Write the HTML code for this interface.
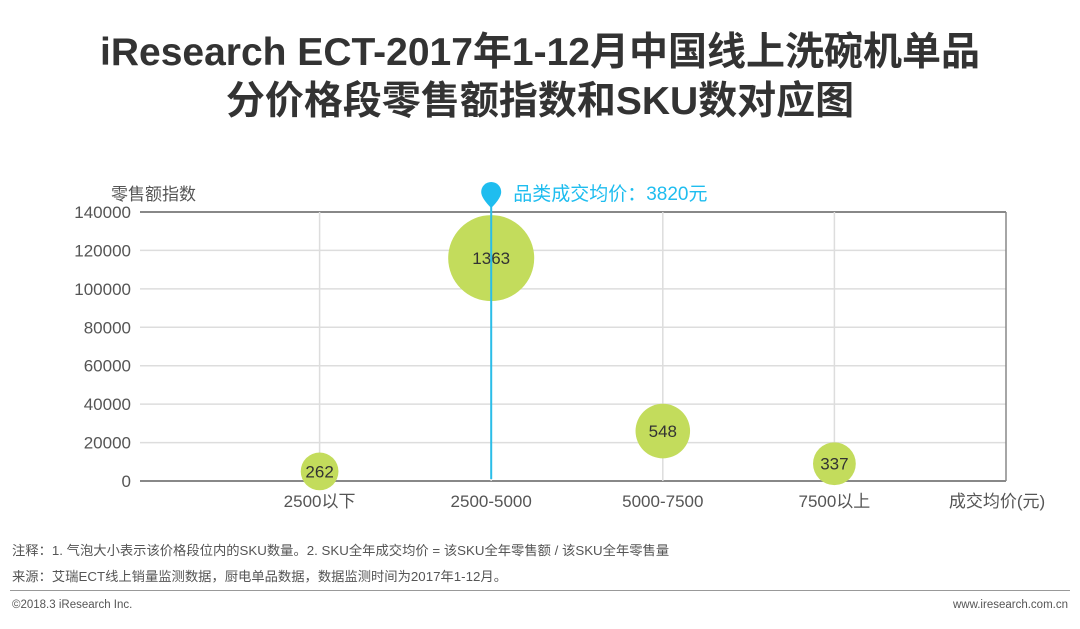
<!DOCTYPE html>
<html><head><meta charset="utf-8"><style>
body{margin:0;width:1080px;height:629px;background:#fff;font-family:"Liberation Sans","Noto Sans CJK SC",sans-serif;overflow:hidden;position:relative}
.t{position:absolute;left:0;width:1080px;text-align:center;font-weight:bold;font-size:39px;color:#333;font-family:"Liberation Sans","Noto Sans CJK SC",sans-serif;line-height:46px}
.s{position:absolute;font-size:13.3px;color:#555}
</style></head><body>
<div class="t" style="top:30px">iResearch ECT-2017年1-12月中国线上洗碗机单品</div>
<div class="t" style="top:79px">分价格段零售额指数和SKU数对应图</div>
<svg id="c" width="1080" height="629" style="position:absolute;left:0;top:0"></svg>
<div class="s" style="left:12px;top:540px">注释：1. 气泡大小表示该价格段位内的SKU数量。2. SKU全年成交均价 = 该SKU全年零售额 / 该SKU全年零售量</div>
<div class="s" style="left:12px;top:566px">来源：艾瑞ECT线上销量监测数据，厨电单品数据，数据监测时间为2017年1-12月。</div>
<div style="position:absolute;left:10px;top:590px;width:1060px;height:1px;background:#999"></div>
<div class="s" style="left:12px;top:599px;font-size:11.5px">©2018.3 iResearch Inc.</div>
<div class="s" style="right:12px;top:599px;font-size:11.5px">www.iresearch.com.cn</div>
<script>
const categories=["2500以下","2500-5000","5000-7500","7500以上"];
const retailIndex=[5000,116000,26000,9000];
const skuCounts=[262,1363,548,337];
const yTicks=[0,20000,40000,60000,80000,100000,120000,140000];
const avgPriceCategory=1;
const avgPriceLabel="品类成交均价：3820元";
const NS="http://www.w3.org/2000/svg";
const svg=document.getElementById('c');
const L=148,R=1006,T=212,B=481,step=(R-L)/5;
const x=i=>L+(i+1)*step;
const y=v=>B-(v/140000)*(B-T);
const rs=n=>Math.sqrt(n)*1.165;
function mk(t,a,txt){const e=document.createElementNS(NS,t);for(const k in a)e.setAttribute(k,a[k]);if(txt!==undefined)e.textContent=txt;svg.appendChild(e);return e;}
yTicks.forEach(v=>{
 const g=mk('line',{x1:140,x2:R,y1:y(v),y2:y(v),stroke:v===0||v===140000?'#888':'#ddd','stroke-width':v===0||v===140000?2:1.5});
 
 
 const t=mk('text',{x:131,y:y(v)+6,'text-anchor':'end','font-size':17,fill:'#555'},v);
 
 
});
mk('line',{x1:R,x2:R,y1:T,y2:B,stroke:'#888','stroke-width':1.5});
categories.forEach((c,i)=>{
 const g=mk('line',{x1:x(i),x2:x(i),y1:T,y2:B,stroke:'#ddd','stroke-width':1.5});
 
 
 const t=mk('text',{x:x(i),y:507,'text-anchor':'middle','font-size':17,fill:'#555'},c);
 
 
});
const xt=mk('text',{x:997,y:507,'text-anchor':'middle','font-size':17,fill:'#555'},'成交均价(元)');


const yt=mk('text',{x:111,y:200,'font-size':17,fill:'#555'},'零售额指数');


skuCounts.forEach((n,i)=>{
 const c=mk('circle',{cx:x(i),cy:y(retailIndex[i]),r:rs(n),fill:'#c3dc5c'});
 
 
 const t=mk('text',{x:x(i),y:y(retailIndex[i])+6,'text-anchor':'middle','font-size':17,fill:'#333'},n);
 
 
});
const ax=x(avgPriceCategory);
const al=mk('line',{x1:ax,x2:ax,y1:200,y2:479,stroke:'#2bbde8','stroke-width':2});


const pin=mk('path',{d:`M${ax-10},192 a10,10 0 1,1 20,0 q0,6 -10,16 q-10,-10 -10,-16z`,fill:'#1fbdef'});


const at=mk('text',{x:ax+22,y:200,'font-size':19,fill:'#1fbdef'},avgPriceLabel);


</script>
</body></html>
